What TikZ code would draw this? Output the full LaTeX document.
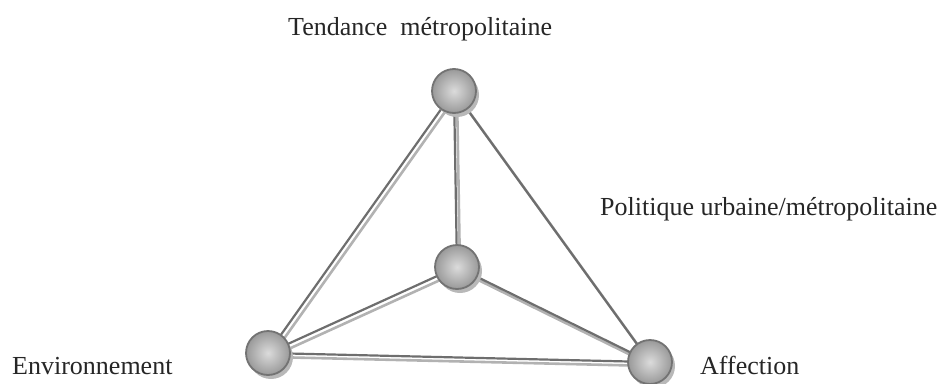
\documentclass[tikz,border=0pt]{standalone}
\usepackage{fontspec}
\setmainfont{Liberation Serif}
\begin{document}
\begin{tikzpicture}[x=1pt,y=-1pt,
  label/.style={anchor=base west,inner sep=0pt,text=black!85,font=\fontsize{26}{30}\selectfont},
  ball/.style={circle,minimum size=44pt,inner sep=0pt,draw=black!55,line width=1.8pt,
    inner color=black!14,outer color=black!40},
  ballshadow/.style={circle,minimum size=44pt,inner sep=0pt,fill=black!28},
  link/.style={draw=black!57,line width=2.2pt},
  linkshadow/.style={draw=black!30,line width=2.6pt}]
\useasboundingbox (0,0) rectangle (947,383);

% sphere centres
\coordinate (t) at (454,91);
\coordinate (m) at (457,267);
\coordinate (l) at (268,353);
\coordinate (r) at (650,362);

% edge shadows, shifted down-right
\foreach \a/\b in {t/l,t/m,t/r,m/l,m/r,l/r}
  \path[linkshadow] ([shift={(3,4)}]\a) -- ([shift={(3,4)}]\b);
% edges
\foreach \a/\b in {t/l,t/m,t/r,m/l,m/r,l/r}
  \path[link] (\a) -- (\b);

% sphere shadows and spheres
\foreach \c in {t,m,l,r}{
  \node[ballshadow] (s\c) at ([shift={(3,4)}]\c) {};
}
\node[ball] (T) at (t) {};
\node[ball] (M) at (m) {};
\node[ball] (L) at (l) {};
\node[ball] (R) at (r) {};

% labels
\node[label] (lt) at (288,35) {Tendance\ \ métropolitaine};
\node[label] (lp) at (600,215) {Politique urbaine/métropolitaine};
\node[label] (ll) at (12,374) {Environnement};
\node[label] (lr) at (700,374) {Affection};
\end{tikzpicture}
\end{document}
